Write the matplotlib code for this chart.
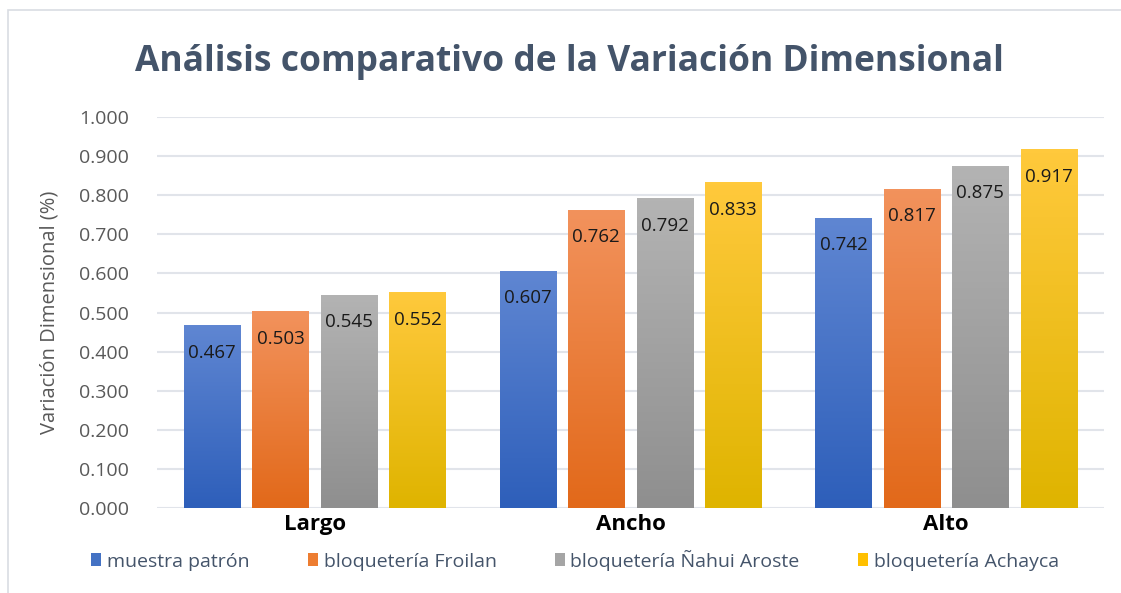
import numpy as np
import matplotlib
matplotlib.use('Agg')
import matplotlib.pyplot as plt
from matplotlib.colors import LinearSegmentedColormap
from matplotlib.patches import Rectangle, Patch

categories = ['Largo', 'Ancho', 'Alto']
series = ['muestra patrón', 'bloquetería Froilan', 'bloquetería Ñahui Aroste', 'bloquetería Achayca']
values = [
    [0.467, 0.607, 0.742],
    [0.503, 0.762, 0.817],
    [0.545, 0.792, 0.875],
    [0.552, 0.833, 0.917],
]
# (top colour, bottom colour) of each gradient
grads = [('#5f86d2', '#2e5fba'),
         ('#f2925c', '#e2691a'),
         ('#b3b3b3', '#8f8f8f'),
         ('#ffc93c', '#dfb400')]
solid = ['#4472c4', '#ed7d31', '#a5a5a5', '#ffc000']

plt.rcParams['font.family'] = ['Open Sans', 'DejaVu Sans']

fig = plt.figure(figsize=(11.21, 5.93), dpi=100)
fig.patches.append(Rectangle((8 / 1121, -0.01), 1.2, 1 - 10 / 593 + 0.01, transform=fig.transFigure,
                             fill=False, edgecolor='#d9dde3', linewidth=1.2))
ax = fig.add_axes([157 / 1121, 1 - 508 / 593, 947 / 1121, 391 / 593])

x = np.arange(len(categories))
step = 0.217
width = 0.178
for k, (name, vals) in enumerate(zip(series, values)):
    pos = x + (k - 1.5) * step
    bars = ax.bar(pos, vals, width, color='none', edgecolor='none', zorder=2)
    cmap = LinearSegmentedColormap.from_list('g%d' % k, [grads[k][1], grads[k][0]])
    for b, v in zip(bars, vals):
        im = ax.imshow(np.linspace(0, 1, 100).reshape(-1, 1), cmap=cmap, origin='lower',
                       extent=[b.get_x(), b.get_x() + width, 0, v], aspect='auto', zorder=2)
        im.set_clip_path(b)
        ax.text(b.get_x() + width / 2, v - 0.07, '%.3f' % v, ha='center', va='center',
                fontsize=13.5, color='#1a1a1a', zorder=3)

ax.set_xlim(-0.5, 2.5)
ax.set_ylim(0, 1.0)
ticks = np.arange(0, 1.01, 0.1)
ax.set_yticks(ticks)
ax.set_yticklabels(['%.3f' % t for t in ticks], fontsize=14, color='#595959')
ax.set_xticks(x)
ax.set_xticklabels(categories, fontsize=16, fontweight='bold', color='black')
ax.tick_params(length=0, axis='y', pad=20)
ax.tick_params(length=0, axis='x', pad=4)
ax.grid(axis='y', color='#e1e4ea', linewidth=1.5, zorder=0)
ax.set_axisbelow(True)
for s in ax.spines.values():
    s.set_visible(False)
ax.set_ylabel('Variación Dimensional (%)', fontsize=14.5, color='#595959', labelpad=14)

fig.text(0.508, 1 - 62 / 593, 'Análisis comparativo de la Variación Dimensional', ha='center', va='center',
         fontsize=25.5, fontweight='bold', color='#44546a')

lh = [Patch(facecolor=c, edgecolor='none') for c in solid]
fig.legend(lh, series, loc='center', bbox_to_anchor=(0.513, 1 - 560 / 593), ncol=4, frameon=False,
           fontsize=14, labelcolor='#44546a', handlelength=0.5, handleheight=0.6,
           handletextpad=0.3, columnspacing=3.0)

fig.savefig('out.png', dpi=100)
